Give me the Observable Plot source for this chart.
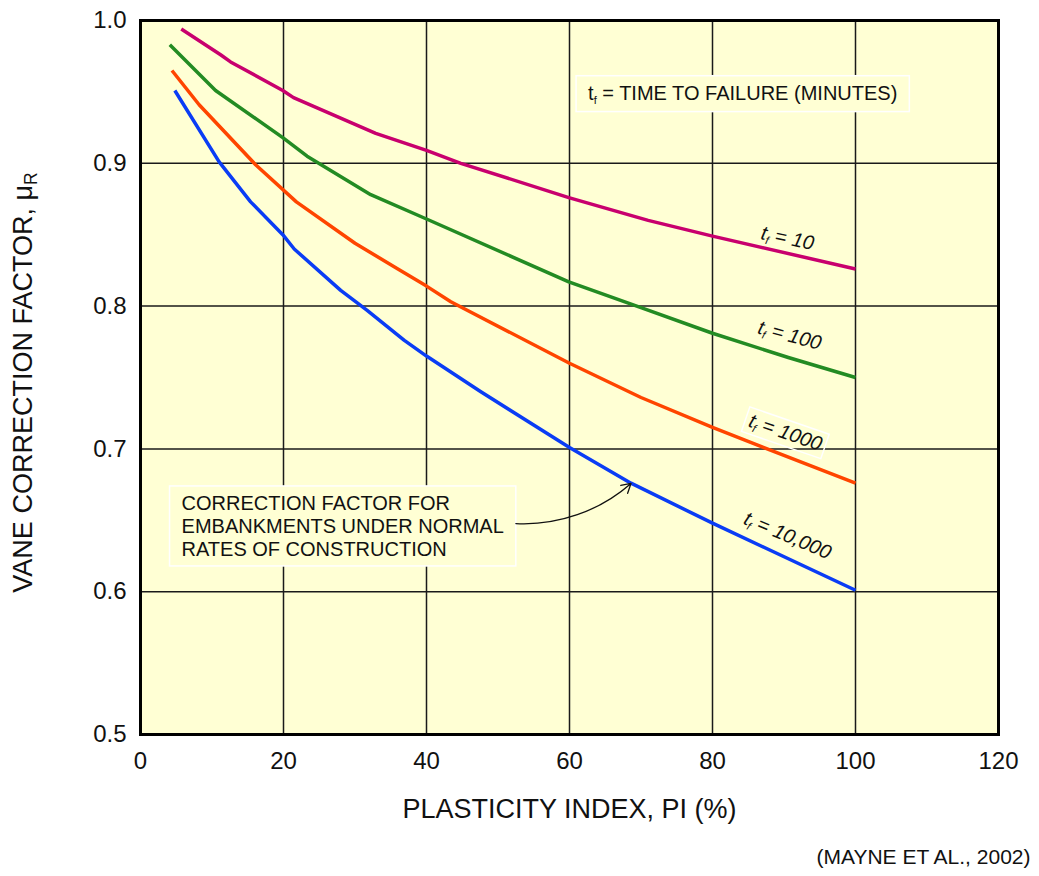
<!DOCTYPE html>
<html><head><meta charset="utf-8">
<script src="https://cdn.jsdelivr.net/npm/d3@7"></script>
<script src="https://cdn.jsdelivr.net/npm/@observablehq/plot@0.6"></script>
<style>
html,body{margin:0;padding:0;background:#fff;}
#chart{width:1039px;height:876px;}
</style></head><body><div id="chart"></div>
<script>
// ---- data ----
const seriesNames = ["10", "100", "1000", "10,000"];
const seriesColors = ["#c8006e", "#238b23", "#ff4500", "#0a3cf5"];

const pi10 = [5.7, 11.2, 12.6, 19.9, 21.4, 32.9, 40, 44.8, 59.9, 71, 80, 100];
const mu10 = [0.994, 0.976, 0.971, 0.951, 0.946, 0.921, 0.909, 0.900, 0.876, 0.860, 0.849, 0.826];

const pi100 = [4.1, 10.5, 19.9, 23.3, 32.2, 40, 59.9, 70, 80, 90.6, 100];
const mu100 = [0.983, 0.951, 0.918, 0.905, 0.878, 0.861, 0.817, 0.799, 0.781, 0.764, 0.750];

const pi1000 = [4.4, 8.2, 16.1, 21.8, 30, 36, 40, 43.4, 60, 70, 80, 100];
const mu1000 = [0.965, 0.941, 0.899, 0.873, 0.844, 0.826, 0.814, 0.803, 0.760, 0.736, 0.715, 0.676];

const pi10000 = [4.8, 11, 15.4, 19.9, 21.5, 28, 31.7, 36.9, 40, 47.6, 60, 68.6, 80, 100];
const mu10000 = [0.951, 0.901, 0.873, 0.850, 0.840, 0.811, 0.797, 0.776, 0.765, 0.740, 0.701, 0.676, 0.648, 0.601];

const xTicks = [0, 20, 40, 60, 80, 100, 120];
const yTicks = [0.5, 0.6, 0.7, 0.8, 0.9, 1.0];

const xLabel = "PLASTICITY INDEX, PI (%)";
const yLabel = "VANE CORRECTION FACTOR, \u03BCR";
const caption = "(MAYNE ET AL., 2002)";
const legendText = "t_f = TIME TO FAILURE (MINUTES)";
const noteText = "CORRECTION FACTOR FOR\nEMBANKMENTS UNDER NORMAL\nRATES OF CONSTRUCTION";

// ---- annotation placement ----
const curveLabels = [
  {text: "t_f = 10", x: 90.5, y: 0.8475, rotate: 12, boxed: false},
  {text: "t_f = 100", x: 90.8, y: 0.7795, rotate: 15, boxed: false},
  {text: "t_f = 1000", x: 90.2, y: 0.7115, rotate: 19, boxed: true},
  {text: "t_f = 10,000", x: 90.5, y: 0.6393, rotate: 23, boxed: false}
];
const legendAnno = [{text: legendText, x: 62.6, y: 0.949}];
const noteAnno = [{text: noteText, x: 5.74, y: 0.6463}];
const arrowAnno = [{x1: 52.5, y1: 0.6477, x2: 68.6, y2: 0.6758}];

// ---- tidy table ----
const table = [];
[[pi10, mu10], [pi100, mu100], [pi1000, mu1000], [pi10000, mu10000]].forEach(([xs, ys], i) =>
  xs.forEach((x, j) => table.push({series: seriesNames[i], pi: x, mu: ys[j]})));

const FONT = "'Liberation Sans', Arial, Helvetica, sans-serif";
const BG = "#ffffd4";

const chart = Plot.plot({
  width: 1039, height: 876,
  marginLeft: 140, marginRight: 41, marginTop: 20, marginBottom: 142,
  style: {fontFamily: FONT, fontSize: "24px", color: "#111", background: "#fff", overflow: "visible"},
  x: {domain: [0, 120]},
  y: {domain: [0.5, 1.0]},
  color: {domain: seriesNames, range: seriesColors},
  marks: [
    Plot.frame({fill: BG, stroke: null}),
    Plot.gridX(xTicks, {stroke: "#1a1a1a", strokeOpacity: 1, strokeWidth: 1.5}),
    Plot.gridY(yTicks, {stroke: "#1a1a1a", strokeOpacity: 1, strokeWidth: 1.5}),
    Plot.axisX({ticks: xTicks, tickSize: 0, tickPadding: 17, label: null, fontSize: 24}),
    Plot.axisY({ticks: yTicks, tickSize: 0, tickPadding: 14, label: null, fontSize: 24, tickFormat: d => d.toFixed(1)}),
    Plot.line(table, {x: "pi", y: "mu", z: "series", stroke: "series", strokeWidth: 3.5, strokeLinejoin: "round", strokeLinecap: "butt"}),
    Plot.text(legendAnno, {x: "x", y: "y", text: "text", textAnchor: "start", fontSize: 20, fill: "#111"}),
    Plot.text(noteAnno, {x: "x", y: "y", text: "text", textAnchor: "start", lineAnchor: "middle", lineHeight: 1.15, fontSize: 20, fill: "#111"}),
    Plot.arrow(arrowAnno, {x1: "x1", y1: "y1", x2: "x2", y2: "y2", bend: -22, headLength: 12, stroke: "#111", strokeWidth: 1.3}),
    Plot.text(curveLabels, {x: "x", y: "y", text: "text", rotate: "rotate", fontSize: 20, fontStyle: "italic", fill: "#111"}),
    Plot.text([xLabel], {text: d => d, frameAnchor: "bottom", textAnchor: "middle", dy: 83, fontSize: 27, fill: "#111"}),
    Plot.text([yLabel], {text: d => d, frameAnchor: "left", textAnchor: "middle", dx: -117, dy: 5, rotate: -90, fontSize: 27, fill: "#111"}),
    Plot.text([caption], {text: d => d, frameAnchor: "bottom-right", textAnchor: "end", dx: 32, dy: 129, fontSize: 21, fill: "#111"}),
    Plot.frame({stroke: "#000", strokeWidth: 3})
  ]
});

document.getElementById("chart").appendChild(chart);

// which texts get a box (by their content)
const filledBoxTexts = [legendText, noteText.replace(/\n/g, "")];
const outlineBoxTexts = curveLabels.filter(d => d.boxed).map(d => d.text);

const toBox = [];
d3.select(chart).selectAll("text").each(function () {
  const s = this.textContent;
  if (filledBoxTexts.includes(s)) toBox.push([this, BG, 12, 6]);
  else if (outlineBoxTexts.includes(s)) toBox.push([this, "none", 4, 1]);
});

// subscripts
d3.select(chart).selectAll("text").each(function () {
  if (this.querySelector("tspan")) return;
  const s = this.textContent;
  const t = d3.select(this);
  if (s.startsWith("t_f")) {
    const rest = s.slice(3);
    t.text(null);
    t.append("tspan").text("t");
    t.append("tspan").attr("font-size", "0.55em").attr("dy", "0.35em").text("f");
    t.append("tspan").attr("dy", "-0.1925em").text(rest);
  } else if (s === yLabel) {
    t.text(null);
    t.append("tspan").text(s.slice(0, -1));
    t.append("tspan").attr("font-size", "0.65em").attr("dy", "0.25em").text("R");
  }
});

// boxes
for (const [el, fill, padX, padY] of toBox) {
  const b = el.getBBox();
  const r = document.createElementNS("http://www.w3.org/2000/svg", "rect");
  r.setAttribute("x", b.x - padX);
  r.setAttribute("y", b.y - padY);
  r.setAttribute("width", b.width + 2 * padX);
  r.setAttribute("height", b.height + 2 * padY);
  r.setAttribute("fill", fill);
  r.setAttribute("stroke", "#ffffff");
  r.setAttribute("stroke-width", "1.5");
  const tr = el.getAttribute("transform");
  if (tr) r.setAttribute("transform", tr);
  el.parentNode.insertBefore(r, el);
}
</script>
</body></html>
